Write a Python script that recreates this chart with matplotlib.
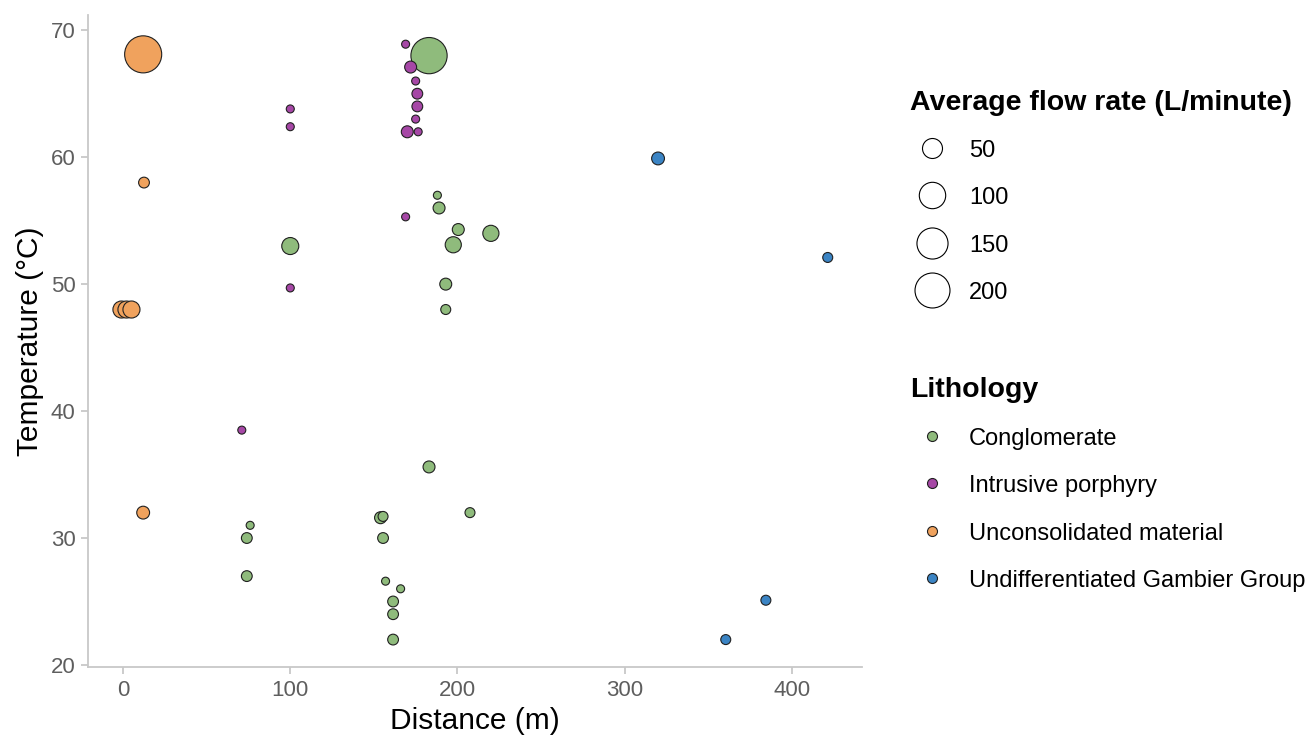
import numpy as np
import matplotlib
matplotlib.use('Agg')
import matplotlib.pyplot as plt
from matplotlib.lines import Line2D

plt.rcParams['font.family'] = ['Liberation Sans', 'DejaVu Sans']

# data
litho_names = ['Conglomerate', 'Intrusive porphyry', 'Unconsolidated material',
               'Undifferentiated Gambier Group']
litho_colors = ['#8fbb7c', '#a647a6', '#f0a25d', '#3b84c4']

congl_dist = [183, 188, 189, 200.5, 220, 197.5, 100, 193, 193, 183, 207.5, 154,
              155.5, 155.5, 76, 74, 74, 157, 166, 161.5, 161.5, 161.5]
congl_temp = [68, 57, 56, 54.3, 54, 53.1, 53, 50, 48, 35.6, 32, 31.6,
              31.7, 30, 31, 30, 27, 26.6, 26, 25, 24, 22]
congl_flow = [218, 13, 17, 17, 30, 30, 34, 17, 14, 17, 14, 17,
              14, 15, 13, 15, 15, 13, 13, 15, 15, 15]

porph_dist = [169, 172, 175, 176, 176, 175, 170, 176.5, 100, 100, 169, 100, 71]
porph_temp = [68.9, 67.1, 66, 65, 64, 63, 62, 62, 63.8, 62.4, 55.3, 49.7, 38.5]
porph_flow = [13, 17, 13, 15, 15, 13, 17, 13, 13, 13, 13, 13, 13]

uncon_dist = [12, 12.5, 12, -1, 2, 5]
uncon_temp = [68.1, 58, 32, 48, 48, 48]
uncon_flow = [230, 15, 19, 34, 34, 34]

gamb_dist = [320, 421.5, 384.5, 360.5]
gamb_temp = [59.9, 52.1, 25.1, 22]
gamb_flow = [19, 14, 14, 14]

size_breaks = [50, 100, 150, 200]

groups = [(congl_dist, congl_temp, congl_flow),
          (porph_dist, porph_temp, porph_flow),
          (uncon_dist, uncon_temp, uncon_flow),
          (gamb_dist, gamb_temp, gamb_flow)]


def diam_px(f):
    # area-style size scale, fitted to the legend circles
    f = np.asarray(f, dtype=float)
    return 8 + np.sqrt(np.clip(f - 13, 0, None) / 0.257)


def area(f):
    return (diam_px(f) * 0.72) ** 2


fig = plt.figure(figsize=(13.1, 7.4), dpi=100)
ax = fig.add_axes([88 / 1310, 1 - 667 / 740, (862 - 88) / 1310, (667 - 15) / 740])

for (d, t, f), c in zip(groups, litho_colors):
    ax.scatter(d, t, s=area(f), c=c, edgecolors='#202020', linewidths=0.8, zorder=3)

ax.set_xlim(-21, 442)
ax.set_ylim(19.84, 71.2)
ax.set_xticks([0, 100, 200, 300, 400])
ax.set_yticks([20, 30, 40, 50, 60, 70])
ax.set_xlabel('Distance (m)', fontsize=21.5, labelpad=5)
ax.set_ylabel('Temperature (°C)', fontsize=21.5, labelpad=5)
for side in ['top', 'right']:
    ax.spines[side].set_visible(False)
for side in ['left', 'bottom']:
    ax.spines[side].set_color('#c8c8c8')
    ax.spines[side].set_linewidth(1.3)
ax.tick_params(colors='#c8c8c8', labelcolor='#5e5e5e', labelsize=16, length=5, width=1.3,
               pad=4)

# size legend
fig.text(910 / 1310, 1 - 103 / 740, 'Average flow rate (L/minute)', fontsize=20.5,
         fontweight='bold', va='center', ha='left')
for i, b in enumerate(size_breaks):
    yy = 1 - (148 + i * 47.3) / 740
    fig.add_artist(Line2D([932 / 1310], [yy], marker='o', markersize=diam_px(b) * 0.72,
                          markerfacecolor='white', markeredgecolor='black',
                          markeredgewidth=0.8, linestyle='none'))
    fig.text(969 / 1310, yy - 3 / 740, str(b), fontsize=17, va='center', ha='left')

# lithology legend
fig.text(910 / 1310, 1 - 390 / 740, 'Lithology', fontsize=20.5,
         fontweight='bold', va='center', ha='left')
for i, (n, c) in enumerate(zip(litho_names, litho_colors)):
    yy = 1 - (436 + i * 47.3) / 740
    fig.add_artist(Line2D([932 / 1310], [yy], marker='o', markersize=10 * 0.72,
                          markerfacecolor=c, markeredgecolor='#202020',
                          markeredgewidth=0.8, linestyle='none'))
    fig.text(969 / 1310, yy - 3 / 740, n, fontsize=17, va='center', ha='left')

fig.savefig('out.png', dpi=100)
